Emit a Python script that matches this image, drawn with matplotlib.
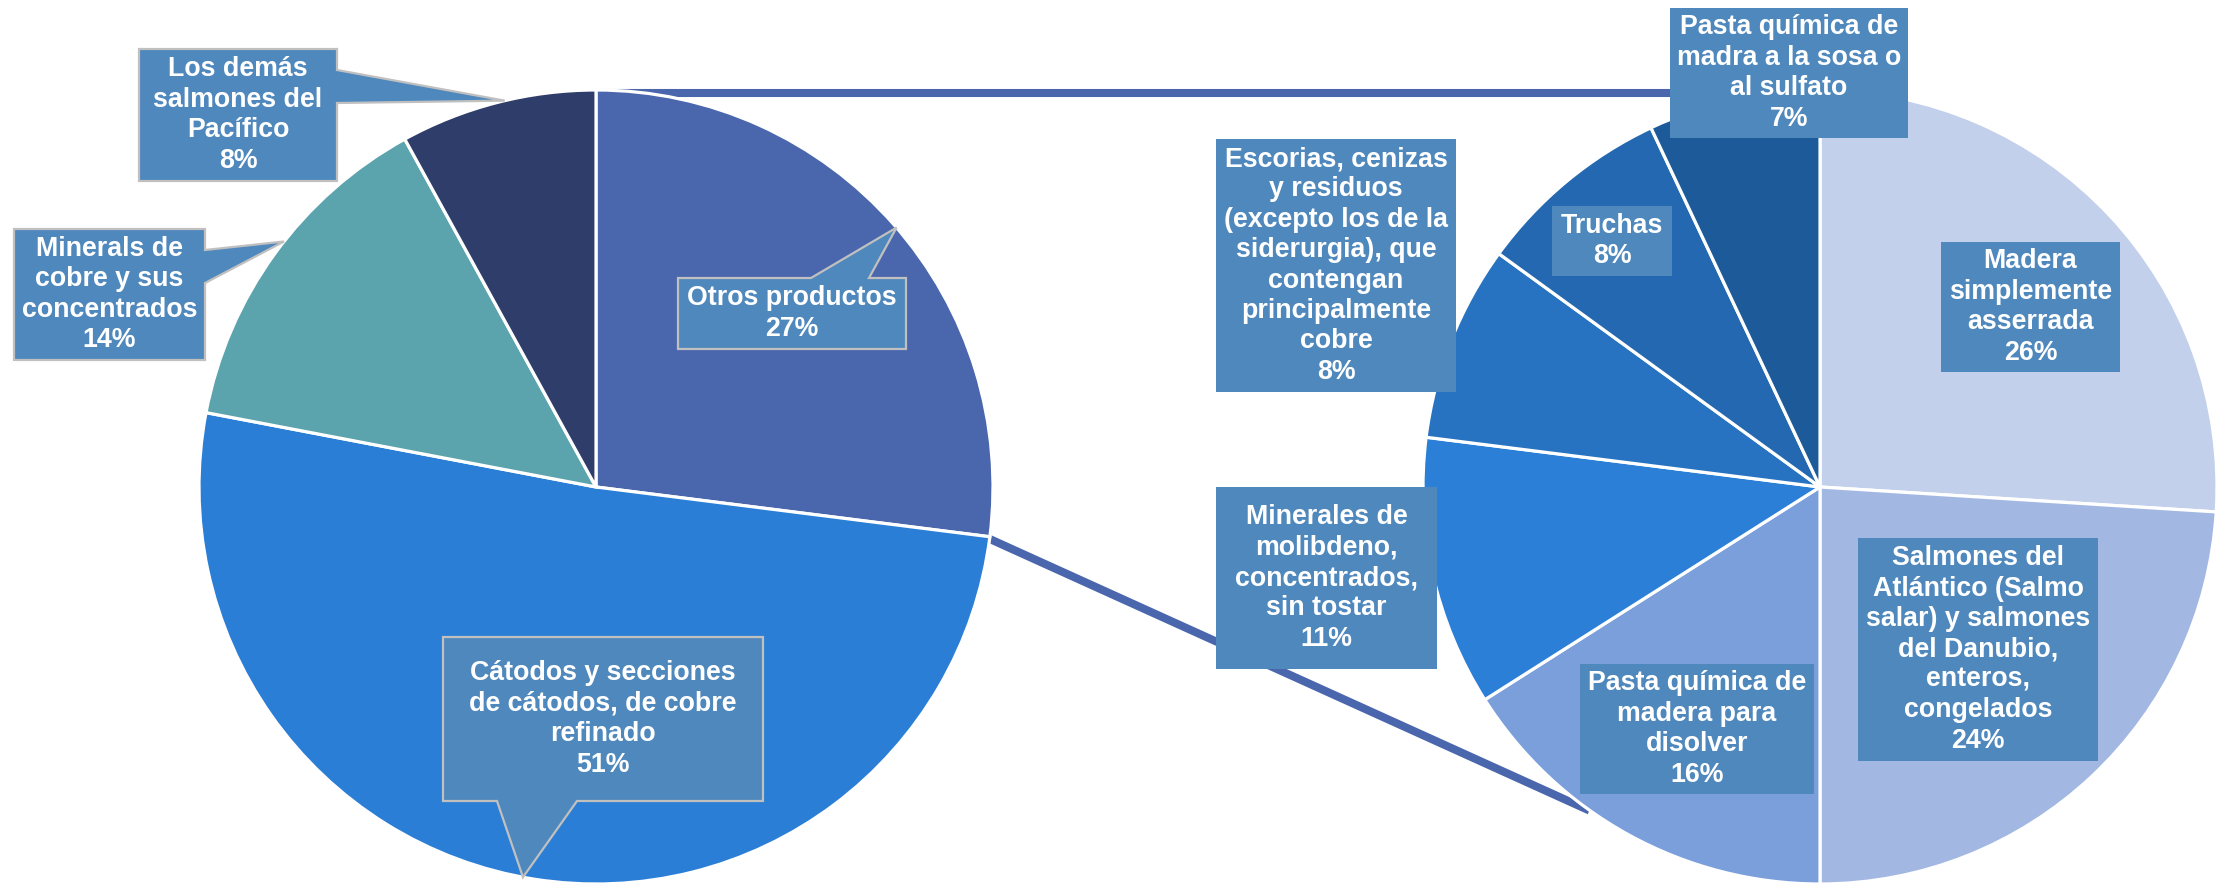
import matplotlib
matplotlib.use("Agg")
import matplotlib.pyplot as plt
from matplotlib.patches import Polygon
import numpy as np

# ---------------- data ----------------
main_labels = ["Otros productos",
               "Cátodos y secciones\nde cátodos, de cobre\nrefinado",
               "Minerals de\ncobre y sus\nconcentrados",
               "Los demás\nsalmones del\nPacífico"]
main_values = [27, 51, 14, 8]
main_colors = ["#4A66AC", "#2A7ED5", "#5BA3AD", "#2E3D69"]

sub_labels = ["Madera\nsimplemente\nasserrada",
              "Salmones del\nAtlántico (Salmo\nsalar) y salmones\ndel Danubio,\nenteros,\ncongelados",
              "Pasta química de\nmadera para\ndisolver",
              "Minerales de\nmolibdeno,\nconcentrados,\nsin tostar",
              "Escorias, cenizas\ny residuos\n(excepto los de la\nsiderurgia), que\ncontengan\nprincipalmente\ncobre",
              "Truchas",
              "Pasta química de\nmadra a la sosa o\nal sulfato"]
sub_values = [26, 24, 16, 11, 8, 8, 7]
sub_colors = ["#C2D0EC", "#A2B8E3", "#7A9FDB", "#2B7FD6", "#2773C2", "#2368B0", "#1C5A99"]

# ---------------- layout ----------------
W, H = 2227, 884
main_center = (596, 487)
sub_center = (1820, 487)
R = 397
family = ["Liberation Sans", "DejaVu Sans"]

fig = plt.figure(figsize=(W / 100, H / 100), dpi=100)
ax = fig.add_axes([0, 0, 1, 1])


def P(x, y):
    return (x, H - y)


def on_circle(c, ang):
    a = np.deg2rad(ang)
    return (c[0] + R * np.cos(a), c[1] - R * np.sin(a))


wp = dict(edgecolor="white", linewidth=2.3)
ax.pie(main_values, colors=main_colors, startangle=90, counterclock=False,
       center=P(*main_center), radius=R, wedgeprops=wp)
ax.pie(sub_values, colors=sub_colors, startangle=90, counterclock=False,
       center=P(*sub_center), radius=R, wedgeprops=wp)

# connector lines (behind pies)
split_end = 90 - 360 * main_values[0] / sum(main_values)
p1 = on_circle(main_center, 90)
p2 = on_circle(sub_center, 90)
ax.plot([p1[0], p2[0]], [H - p1[1] - 3, H - p2[1] - 3], color="#4A66AC", lw=5.8,
        zorder=0.5, solid_capstyle="butt")
q1 = on_circle(main_center, split_end)
q2 = on_circle(sub_center, -126.4)
ax.plot([q1[0] - 5, q2[0] + 5], [H - q1[1], H - q2[1] - 4], color="#4A66AC", lw=5.8,
        zorder=0.5, solid_capstyle="butt")

box_color = "#4F88BC"
fs = 19.3


def draw_box(rect, text, pointer=None, center=None, edge=True):
    x0, y0, x1, y1 = rect
    if pointer is None:
        pts = [(x0, y0), (x1, y0), (x1, y1), (x0, y1)]
    else:
        side, b0, b1, ang = pointer
        tip = on_circle(center, ang)
        if side == "top":
            pts = [(x0, y0), (b0, y0), tip, (b1, y0), (x1, y0), (x1, y1), (x0, y1)]
        elif side == "bottom":
            pts = [(x0, y0), (x1, y0), (x1, y1), (b1, y1), tip, (b0, y1), (x0, y1)]
        else:  # right
            pts = [(x0, y0), (x1, y0), (x1, b0), tip, (x1, b1), (x1, y1), (x0, y1)]
    poly = Polygon([P(*p) for p in pts], closed=True, facecolor=box_color,
                   edgecolor="#C0C0C0" if edge else "none", lw=1.6, zorder=3,
                   joinstyle="miter")
    ax.add_patch(poly)
    ax.text((x0 + x1) / 2, H - (y0 + y1) / 2, text, ha="center", va="center",
            multialignment="center", color="white", fontsize=fs, fontweight="bold",
            family=family, linespacing=1.22, zorder=4)


main_boxes = [
    ((678, 278, 906, 349), ("top", 811, 869, 40.8)),
    ((443, 637, 763, 801), ("bottom", 497, 577, -100.6)),
    ((14, 229, 205, 360), ("right", 250, 283, 141.8)),
    ((139, 49, 337, 181), ("right", 70, 103, 103.3)),
]
for (rect, ptr), lab, v in zip(main_boxes, main_labels, main_values):
    draw_box(rect, f"{lab}\n{v}%", pointer=ptr, center=main_center, edge=True)

sub_boxes = [
    (1941, 242, 2120, 372),
    (1858, 538, 2098, 761),
    (1580, 664, 1814, 794),
    (1216, 487, 1437, 669),
    (1216, 139, 1456, 392),
    (1552, 206, 1672, 276),
    (1670, 8, 1908, 138),
]
for rect, lab, v in zip(sub_boxes, sub_labels, sub_values):
    draw_box(rect, f"{lab}\n{v}%", edge=False)

ax.set_xlim(0, W)
ax.set_ylim(0, H)
ax.set_aspect("equal")
ax.axis("off")
fig.savefig("out.png", dpi=100, facecolor="white")
